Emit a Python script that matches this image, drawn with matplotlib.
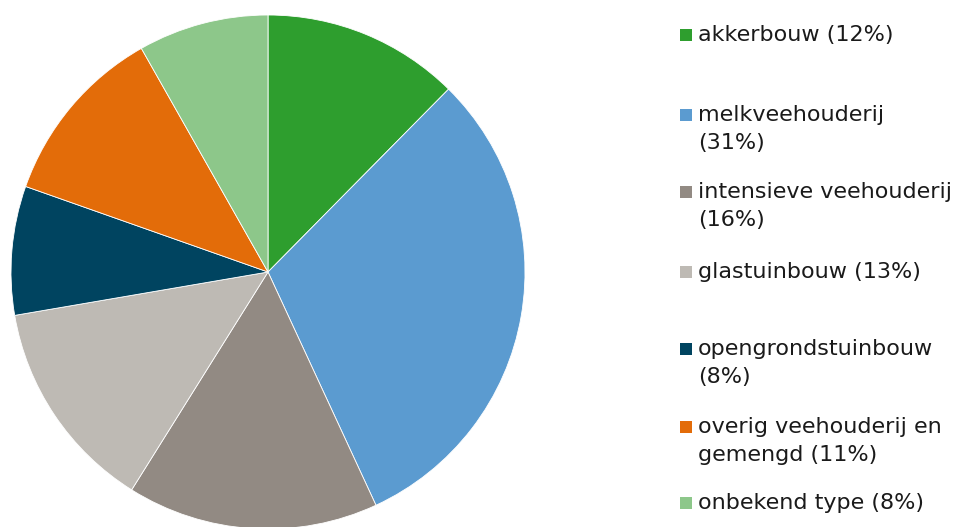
import matplotlib
matplotlib.use("Agg")
from matplotlib import pyplot as plt
from matplotlib.patches import Rectangle

# shares (legend shows rounded values)
categories = ["akkerbouw", "melkveehouderij", "intensieve veehouderij", "glastuinbouw",
              "opengrondstuinbouw", "overig veehouderij en gemengd", "onbekend type"]
shares = [12.4, 30.7, 15.8, 13.4, 8.1, 11.4, 8.2]
legend_labels = ["akkerbouw (12%)", "melkveehouderij\n(31%)", "intensieve veehouderij\n(16%)",
                 "glastuinbouw (13%)", "opengrondstuinbouw\n(8%)",
                 "overig veehouderij en\ngemengd (11%)", "onbekend type (8%)"]
colors = ["#2e9e2e", "#5b9bd0", "#928a83", "#bebab4", "#004460", "#e36c09", "#8dc78a"]
# legend row positions (pixels from top, centre of first line)
legend_y = [35, 115, 192, 272, 349, 427, 503]

W, H = 957, 527
fig = plt.figure(figsize=(W / 100, H / 100), dpi=100)

cx, cy, r = 268, 272, 257
ax = fig.add_axes([(cx - r) / W, (H - cy - r) / H, 2 * r / W, 2 * r / H])
ax.pie(shares, colors=colors, startangle=90, counterclock=False, radius=1,
       wedgeprops=dict(edgecolor="white", linewidth=0.6))
ax.set_xlim(-1, 1)
ax.set_ylim(-1, 1)
ax.set_aspect("equal")
ax.axis("off")

sq = 12
for lab, col, y in zip(legend_labels, colors, legend_y):
    fig.patches.append(Rectangle(((686 - sq / 2) / W, (H - y - sq / 2) / H), sq / W, sq / H,
                                 transform=fig.transFigure, facecolor=col, edgecolor="none"))
    if "\n" in lab:
        fig.text(698 / W, (H - y + 10) / H, lab, ha="left", va="top",
                 fontsize=16, color="#1a1a1a", family="DejaVu Sans", linespacing=1.5)
    else:
        fig.text(698 / W, (H - y) / H, lab, ha="left", va="center",
                 fontsize=16, color="#1a1a1a", family="DejaVu Sans")

fig.savefig("out.png", dpi=100)
